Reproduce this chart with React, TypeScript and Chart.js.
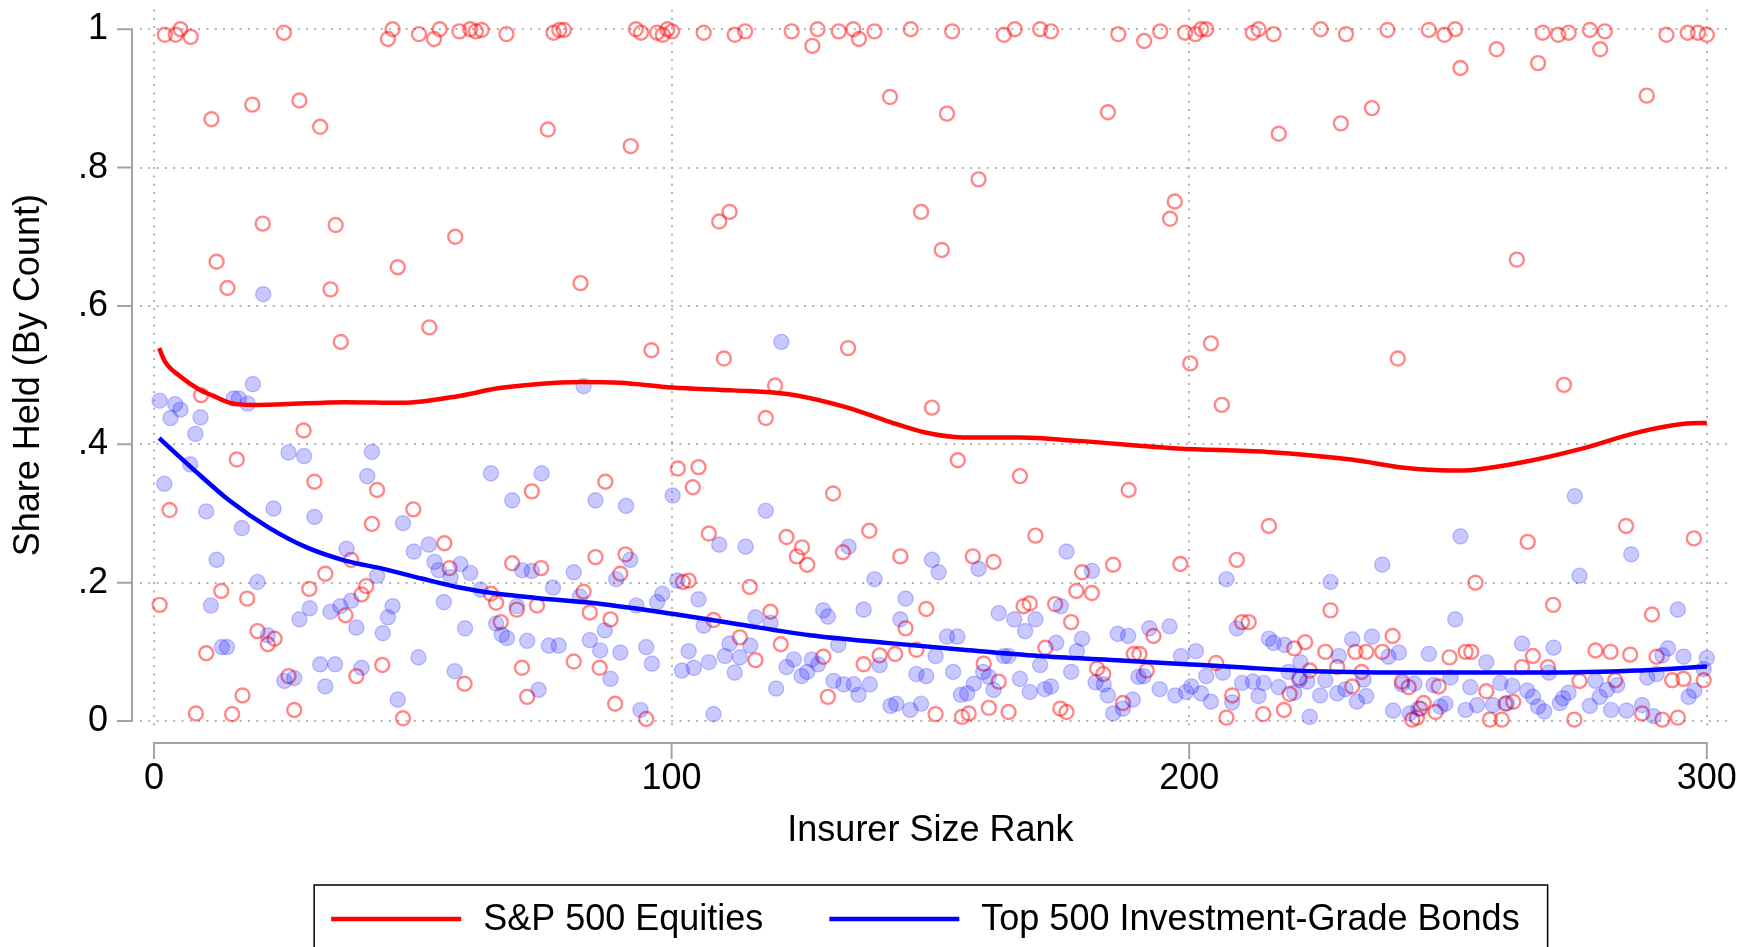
import React, { useEffect, useRef } from "react";
import { Chart, registerables } from "chart.js";

Chart.register(...registerables);

const FONT = '"Liberation Sans", Arial, Helvetica, sans-serif';
const FONT_SIZE = 36;

// ---- axis ticks / titles ----
const xTickValues = [0, 100, 200, 300];
const xTickLabels = ["0", "100", "200", "300"];
const yTickValues = [0, 0.2, 0.4, 0.6, 0.8, 1];
const yTickLabels = ["0", ".2", ".4", ".6", ".8", "1"];
const xTitle = "Insurer Size Rank";
const yTitle = "Share Held (By Count)";
const seriesNames = ["S&P 500 Equities", "Top 500 Investment-Grade Bonds"];

// ---- S&P 500 equities: share held per insurer (hollow red) ----
const equityRank = [
  1.1, 2.1, 3.0, 4.2, 5.1, 7.1, 8.1, 9.1, 10.1, 11.1, 12.1, 13.0, 14.2, 15.1, 16.0, 17.1, 18.0, 19.0, 20.0, 21.0,
  22.0, 23.3, 25.1, 26.0, 27.1, 28.1, 28.9, 30.0, 31.0, 32.1, 33.1, 34.1, 35.1, 36.1, 37.0, 38.1, 39.1, 40.1, 41.0, 42.1,
  43.1, 44.1, 45.2, 46.1, 47.1, 48.1, 50.1, 51.2, 53.2, 54.1, 55.2, 56.1, 57.1, 58.2, 59.0, 60.0, 61.1, 62.2, 63.3, 65.1,
  66.1, 67.0, 68.1, 69.2, 70.1, 71.1, 72.1, 73.0, 74.0, 74.8, 76.1, 77.2, 78.3, 79.2, 81.1, 82.4, 83.0, 84.2, 85.3, 86.1,
  87.2, 88.2, 89.1, 90.1, 91.1, 92.1, 93.1, 94.1, 95.1, 96.1, 97.2, 98.3, 99.2, 100.1, 101.2, 102.2, 103.3, 104.1, 105.2, 106.2,
  107.2, 108.1, 109.2, 110.1, 111.2, 112.2, 113.2, 114.2, 115.1, 116.2, 118.2, 119.1, 120.0, 121.1, 122.2, 123.2, 124.2, 125.2, 126.2, 127.2,
  128.2, 129.3, 130.2, 131.2, 132.3, 133.1, 134.1, 135.1, 136.2, 137.1, 138.2, 139.2, 140.2, 142.2, 143.2, 144.2, 145.2, 146.2, 147.3, 148.2,
  149.2, 150.3, 151.0, 152.2, 153.2, 154.2, 155.3, 156.1, 157.4, 158.2, 159.3, 160.3, 161.3, 162.2, 163.2, 164.2, 165.1, 166.3, 167.3, 168.0,
  169.2, 170.3, 171.2, 172.2, 173.3, 174.1, 175.1, 176.3, 177.2, 178.2, 179.3, 181.2, 182.2, 183.4, 184.3, 185.3, 186.3, 187.2, 188.3, 189.3,
  190.4, 191.3, 191.8, 193.1, 194.4, 196.3, 197.2, 198.3, 199.2, 200.2, 201.2, 202.3, 203.3, 204.2, 205.2, 206.3, 207.2, 208.3, 209.2, 210.2,
  211.5, 212.3, 213.4, 214.3, 215.4, 216.3, 217.3, 218.3, 219.4, 220.3, 221.3, 222.4, 223.3, 225.4, 226.3, 227.3, 228.6, 229.3, 230.3, 231.5,
  232.1, 233.3, 234.2, 235.3, 237.3, 238.3, 239.3, 240.3, 241.1, 242.4, 243.1, 244.0, 244.7, 245.3, 246.3, 247.6, 248.2, 249.3, 250.3, 251.4,
  252.4, 253.4, 254.5, 255.3, 257.4, 258.1, 259.4, 260.4, 261.1, 262.6, 263.3, 264.3, 265.4, 266.4, 267.4, 268.3, 269.3, 270.3, 271.3, 272.4,
  273.3, 274.4, 275.4, 277.4, 278.5, 279.4, 280.3, 281.4, 282.3, 284.4, 285.2, 287.5, 288.4, 289.4, 290.3, 291.4, 292.2, 293.3, 294.4, 295.5,
  296.3, 297.5, 298.3, 299.4, 300.0,
];
const equityShare = [
  0.168, 0.992, 0.305, 0.992, 1.0, 0.989, 0.011, 0.471, 0.098, 0.87, 0.664, 0.188, 0.626, 0.01, 0.378, 0.037, 0.177, 0.891, 0.13, 0.719,
  0.111, 0.119, 0.995, 0.065, 0.016, 0.897, 0.42, 0.191, 0.346, 0.859, 0.213, 0.624, 0.717, 0.548, 0.153, 0.233, 0.065, 0.183, 0.195, 0.285,
  0.334, 0.081, 0.986, 1.0, 0.656, 0.004, 0.306, 0.993, 0.569, 0.986, 1.0, 0.257, 0.221, 0.7, 0.997, 0.054, 1.0, 0.997, 0.999, 0.184,
  0.171, 0.143, 0.993, 0.228, 0.161, 0.077, 0.035, 0.332, 0.167, 0.221, 0.855, 0.995, 0.999, 0.999, 0.086, 0.633, 0.187, 0.157, 0.237, 0.077,
  0.346, 0.147, 0.025, 0.213, 0.241, 0.831, 1.0, 0.995, 0.003, 0.536, 0.995, 0.992, 1.0, 0.997, 0.365, 0.201, 0.203, 0.338, 0.367, 0.995,
  0.271, 0.146, 0.722, 0.524, 0.736, 0.992, 0.121, 0.997, 0.194, 0.088, 0.438, 0.158, 0.485, 0.111, 0.266, 0.997, 0.238, 0.251, 0.226, 0.976,
  1.0, 0.093, 0.035, 0.329, 0.997, 0.244, 0.539, 1.0, 0.986, 0.082, 0.275, 0.997, 0.095, 0.902, 0.097, 0.238, 0.134, 1.0, 0.103, 0.736,
  0.162, 0.453, 0.01, 0.681, 0.878, 0.997, 0.377, 0.006, 0.011, 0.238, 0.783, 0.083, 0.019, 0.23, 0.057, 0.992, 0.013, 1.0, 0.354, 0.166,
  0.17, 0.268, 1.0, 0.106, 0.997, 0.169, 0.018, 0.013, 0.143, 0.188, 0.215, 0.185, 0.076, 0.068, 0.88, 0.226, 0.993, 0.026, 0.334, 0.097,
  0.097, 0.983, 0.073, 0.123, 0.997, 0.726, 0.751, 0.227, 0.995, 0.517, 0.993, 1.0, 1.0, 0.546, 0.084, 0.457, 0.005, 0.037, 0.233, 0.143,
  0.143, 0.995, 1.0, 0.01, 0.282, 0.993, 0.849, 0.016, 0.039, 0.105, 0.062, 0.114, 0.073, 1.0, 0.1, 0.16, 0.078, 0.864, 0.993, 0.05,
  0.1, 0.071, 0.1, 0.886, 0.1, 0.999, 0.123, 0.524, 0.057, 0.049, 0.002, 0.005, 0.018, 0.026, 0.999, 0.013, 0.05, 0.992, 0.092, 1.0,
  0.944, 0.1, 0.1, 0.2, 0.043, 0.002, 0.971, 0.002, 0.025, 0.028, 0.667, 0.078, 0.259, 0.094, 0.951, 0.995, 0.078, 0.168, 0.992, 0.486,
  0.995, 0.002, 0.058, 0.999, 0.102, 0.971, 0.997, 0.1, 0.059, 0.282, 0.096, 0.011, 0.904, 0.154, 0.093, 0.002, 0.992, 0.059, 0.005, 0.061,
  0.995, 0.264, 0.995, 0.059, 0.992,
];

// ---- Top 500 IG bonds: share held per insurer (filled blue) ----
const bondRank = [
  1.1, 2.0, 3.2, 4.1, 5.1, 7.0, 8.0, 9.0, 10.1, 11.0, 12.1, 13.1, 14.1, 15.4, 16.4, 17.0, 18.1, 19.1, 20.0, 21.1,
  22.0, 23.1, 25.2, 26.0, 27.1, 28.1, 29.0, 30.1, 31.0, 32.1, 33.1, 34.1, 35.0, 36.0, 37.2, 38.1, 39.1, 40.1, 41.2, 42.1,
  43.1, 44.2, 45.2, 46.1, 47.1, 48.1, 50.2, 51.1, 53.1, 54.2, 55.0, 56.0, 57.3, 58.1, 59.2, 60.1, 61.1, 63.1, 65.1, 66.1,
  67.2, 68.2, 69.2, 70.1, 71.1, 72.1, 73.0, 74.3, 74.9, 76.3, 77.1, 78.2, 81.1, 82.3, 83.0, 84.2, 85.3, 86.2, 87.1, 88.2,
  89.3, 90.1, 91.2, 92.0, 93.2, 94.0, 95.1, 96.2, 97.2, 98.2, 100.2, 101.1, 102.0, 103.3, 104.3, 105.2, 106.2, 107.2, 108.1, 109.2,
  110.3, 111.2, 112.2, 113.2, 114.3, 115.2, 116.2, 118.2, 119.1, 120.2, 121.2, 122.2, 123.6, 125.1, 126.2, 127.1, 128.3, 129.3, 130.2, 131.3,
  132.2, 133.2, 134.2, 135.2, 136.1, 137.1, 138.3, 139.2, 140.2, 142.3, 143.4, 144.2, 145.2, 146.1, 147.3, 148.2, 149.2, 150.3, 151.0, 151.6,
  153.2, 154.4, 155.2, 155.9, 157.1, 158.4, 159.3, 160.2, 161.3, 162.2, 163.2, 164.2, 165.1, 166.2, 167.3, 168.3, 169.2, 170.3, 171.2, 172.1,
  173.3, 174.3, 175.2, 176.3, 177.2, 178.3, 179.3, 181.2, 181.9, 183.5, 184.3, 185.3, 186.2, 187.2, 188.2, 189.1, 190.2, 191.2, 192.3, 194.3,
  196.2, 197.3, 198.4, 199.4, 200.4, 201.3, 202.3, 203.3, 204.2, 206.5, 207.2, 208.3, 209.2, 210.2, 212.3, 213.4, 214.4, 215.4, 216.3, 217.3,
  218.4, 219.2, 220.3, 221.3, 221.5, 222.8, 223.3, 225.3, 226.3, 227.3, 228.6, 228.9, 230.2, 231.5, 232.4, 233.7, 234.2, 235.3, 237.3, 238.5,
  239.4, 240.5, 241.1, 242.6, 243.5, 244.3, 246.3, 247.2, 248.5, 249.5, 250.5, 251.4, 252.4, 253.4, 254.3, 255.6, 257.4, 258.7, 260.1, 261.4,
  262.4, 264.3, 265.3, 266.4, 267.4, 268.6, 269.5, 270.4, 271.6, 272.2, 273.3, 274.5, 275.4, 277.4, 278.5, 279.3, 280.7, 281.5, 282.7, 284.5,
  285.4, 287.5, 288.5, 289.7, 290.3, 291.4, 292.5, 294.4, 295.5, 296.5, 297.6, 299.4, 300.0,
];
const bondShare = [
  0.463, 0.343, 0.438, 0.458, 0.45, 0.371, 0.415, 0.439, 0.303, 0.167, 0.233, 0.107, 0.107, 0.466, 0.466, 0.279, 0.459, 0.487, 0.201, 0.617,
  0.124, 0.307, 0.058, 0.388, 0.062, 0.147, 0.383, 0.163, 0.295, 0.082, 0.05, 0.158, 0.082, 0.166, 0.249, 0.174, 0.135, 0.077, 0.354, 0.389,
  0.21, 0.127, 0.15, 0.166, 0.031, 0.286, 0.245, 0.092, 0.255, 0.23, 0.218, 0.172, 0.208, 0.072, 0.227, 0.134, 0.214, 0.19, 0.358, 0.141,
  0.125, 0.12, 0.319, 0.166, 0.218, 0.116, 0.217, 0.045, 0.358, 0.109, 0.193, 0.109, 0.215, 0.18, 0.484, 0.117, 0.319, 0.102, 0.131, 0.061,
  0.205, 0.099, 0.311, 0.233, 0.167, 0.016, 0.107, 0.083, 0.172, 0.184, 0.326, 0.203, 0.073, 0.101, 0.077, 0.176, 0.138, 0.085, 0.01, 0.255,
  0.094, 0.112, 0.07, 0.092, 0.252, 0.109, 0.15, 0.304, 0.142, 0.047, 0.548, 0.078, 0.089, 0.065, 0.071, 0.089, 0.082, 0.16, 0.151, 0.058,
  0.11, 0.053, 0.252, 0.053, 0.038, 0.161, 0.053, 0.205, 0.081, 0.022, 0.025, 0.147, 0.177, 0.016, 0.068, 0.025, 0.065, 0.233, 0.094, 0.215,
  0.122, 0.071, 0.122, 0.038, 0.04, 0.054, 0.22, 0.071, 0.064, 0.045, 0.156, 0.094, 0.094, 0.147, 0.061, 0.13, 0.042, 0.147, 0.081, 0.046,
  0.05, 0.113, 0.166, 0.245, 0.071, 0.101, 0.119, 0.217, 0.056, 0.053, 0.037, 0.011, 0.126, 0.018, 0.123, 0.031, 0.064, 0.065, 0.134, 0.046,
  0.137, 0.037, 0.094, 0.042, 0.05, 0.101, 0.04, 0.065, 0.028, 0.07, 0.205, 0.027, 0.134, 0.055, 0.057, 0.036, 0.055, 0.119, 0.113, 0.049,
  0.11, 0.071, 0.041, 0.059, 0.085, 0.057, 0.006, 0.037, 0.059, 0.201, 0.04, 0.094, 0.046, 0.118, 0.028, 0.06, 0.036, 0.122, 0.226, 0.093,
  0.015, 0.099, 0.053, 0.011, 0.054, 0.018, 0.097, 0.052, 0.021, 0.025, 0.063, 0.147, 0.267, 0.016, 0.049, 0.023, 0.085, 0.023, 0.055, 0.026,
  0.051, 0.112, 0.044, 0.035, 0.021, 0.014, 0.07, 0.106, 0.026, 0.033, 0.041, 0.325, 0.21, 0.022, 0.058, 0.035, 0.045, 0.016, 0.052, 0.015,
  0.241, 0.023, 0.063, 0.007, 0.068, 0.095, 0.105, 0.161, 0.093, 0.035, 0.044, 0.075, 0.091,
];

// ---- smoothed (lowess) fits ----
const equityFitRank = [1, 2.1, 5.1, 8.8, 11.5, 14.7, 19.1, 25, 36.9, 48, 59, 66.4, 73.8, 82.4, 90, 100.1, 112, 123, 134, 141.5, 149, 156.3, 167.4, 178.5, 197.7, 215, 231.3, 241.6, 250.4, 254.8, 264.4, 275.5, 286.5, 296.1, 300];
const equityFitShare = [0.539, 0.52, 0.498, 0.479, 0.47, 0.46, 0.457, 0.458, 0.461, 0.46, 0.47, 0.481, 0.487, 0.49, 0.489, 0.482, 0.478, 0.472, 0.453, 0.434, 0.417, 0.41, 0.41, 0.405, 0.394, 0.389, 0.378, 0.366, 0.362, 0.363, 0.374, 0.393, 0.417, 0.43, 0.431];
const bondFitRank = [1, 7.3, 14.7, 22.1, 29.5, 36.9, 44.3, 51.7, 59, 66.4, 73.8, 85.7, 100.1, 112, 126.7, 141.5, 156.3, 171, 186, 197.7, 209, 224, 246, 268, 286.5, 300];
const bondFitShare = [0.409, 0.366, 0.318, 0.28, 0.251, 0.232, 0.22, 0.206, 0.193, 0.184, 0.178, 0.17, 0.155, 0.141, 0.124, 0.113, 0.103, 0.094, 0.088, 0.083, 0.078, 0.072, 0.07, 0.07, 0.073, 0.079];

const AXIS_COLOR = "#a3a3a3";
const GRID_COLOR = "#b3b3b3";

const stataPlugin = {
  id: "stataFrame",
  afterDraw(chart: any) {
    const { ctx, chartArea, scales } = chart;
    const xs = scales.x;
    const ys = scales.y;
    ctx.save();
    // y axis line + ticks (offset left of plot region)
    ctx.strokeStyle = AXIS_COLOR;
    ctx.lineWidth = 2;
    ctx.lineCap = "butt";
    const ax = chartArea.left - 8;
    const yBot = ys.getPixelForValue(yTickValues[0]);
    const yTop = ys.getPixelForValue(yTickValues[yTickValues.length - 1]);
    ctx.beginPath();
    ctx.moveTo(ax, yBot + 1);
    ctx.lineTo(ax, yTop - 1);
    yTickValues.forEach((v) => {
      const p = ys.getPixelForValue(v);
      ctx.moveTo(ax - 15, p);
      ctx.lineTo(ax, p);
    });
    ctx.stroke();
    // x axis line + ticks (offset below plot region)
    const ay = chartArea.bottom + 16;
    const xL = xs.getPixelForValue(xTickValues[0]);
    const xR = xs.getPixelForValue(xTickValues[xTickValues.length - 1]);
    ctx.beginPath();
    ctx.moveTo(xL - 1, ay);
    ctx.lineTo(xR + 1, ay);
    xTickValues.forEach((v) => {
      const p = xs.getPixelForValue(v);
      ctx.moveTo(p, ay);
      ctx.lineTo(p, ay + 16);
    });
    ctx.stroke();

    // axis titles
    ctx.fillStyle = "#000";
    ctx.font = `${FONT_SIZE}px ${FONT}`;
    ctx.textAlign = "center";
    ctx.textBaseline = "middle";
    ctx.fillText(xTitle, (xL + xR) / 2, chartArea.bottom + 104);
    ctx.save();
    ctx.translate(29, (yBot + yTop) / 2);
    ctx.rotate(-Math.PI / 2);
    ctx.fillText(yTitle, 0, 0);
    ctx.restore();

    // legend (boxed, below the axis title)
    const fits = chart.data.datasets.filter((d: any) => d.isFit);
    const lineLen = 130;
    const gapText = 22;
    const gapItem = 66;
    const widths = fits.map((d: any) => ctx.measureText(d.label).width);
    const content = fits.reduce((s: number, _d: any, i: number) => s + lineLen + gapText + widths[i], 0) + gapItem * (fits.length - 1);
    const cx = (xL + xR) / 2 - 5;
    let x = cx - content / 2;
    const ly = chartArea.bottom + 192;
    const boxTop = chartArea.bottom + 158;
    ctx.strokeStyle = "#000";
    ctx.lineWidth = 1.5;
    ctx.strokeRect(x - 17, boxTop, content + 45, 120);
    ctx.textAlign = "left";
    fits.forEach((d: any, i: number) => {
      ctx.strokeStyle = d.borderColor;
      ctx.lineWidth = 4.5;
      ctx.beginPath();
      ctx.moveTo(x, ly);
      ctx.lineTo(x + lineLen, ly);
      ctx.stroke();
      x += lineLen + gapText;
      ctx.fillStyle = "#000";
      ctx.fillText(d.label, x, ly + 1);
      x += widths[i] + gapItem;
    });
    ctx.restore();
  },
};

const zeroPadding = (axis: any) => {
  axis.paddingTop = 0;
  axis.paddingBottom = 0;
  axis.paddingLeft = 0;
  axis.paddingRight = 0;
};

export default function App() {
  const ref = useRef<HTMLCanvasElement | null>(null);

  useEffect(() => {
    if (!ref.current) return;
    const equityPts = equityRank.map((x, i) => ({ x, y: equityShare[i] }));
    const bondPts = bondRank.map((x, i) => ({ x, y: bondShare[i] }));
    const equityFit = equityFitRank.map((x, i) => ({ x, y: equityFitShare[i] }));
    const bondFit = bondFitRank.map((x, i) => ({ x, y: bondFitShare[i] }));

    const chart = new Chart(ref.current, {
      type: "scatter",
      data: {
        datasets: [
          {
            label: seriesNames[0] + " (holdings)",
            data: equityPts,
            showLine: false,
            pointRadius: 7,
            pointBorderWidth: 2.4,
            pointBorderColor: "rgba(255,0,0,0.47)",
            pointBackgroundColor: "rgba(0,0,0,0)",
            clip: false,
            order: 4,
          } as any,
          {
            label: seriesNames[1] + " (holdings)",
            data: bondPts,
            showLine: false,
            pointRadius: 7.6,
            pointBorderWidth: 1.4,
            pointBorderColor: "rgba(0,0,255,0.21)",
            pointBackgroundColor: "rgba(0,0,255,0.21)",
            clip: false,
            order: 3,
          } as any,
          {
            type: "line",
            label: seriesNames[0],
            isFit: true,
            data: equityFit,
            borderColor: "rgb(255,0,0)",
            borderWidth: 4.5,
            pointRadius: 0,
            cubicInterpolationMode: "monotone",
            fill: false,
            order: 2,
          } as any,
          {
            type: "line",
            label: seriesNames[1],
            isFit: true,
            data: bondFit,
            borderColor: "rgb(0,0,255)",
            borderWidth: 4.5,
            pointRadius: 0,
            cubicInterpolationMode: "monotone",
            fill: false,
            order: 1,
          } as any,
        ],
      },
      options: {
        responsive: false,
        maintainAspectRatio: false,
        devicePixelRatio: 1,
        animation: false,
        layout: { padding: { left: 0, top: 7, right: 31, bottom: 0 } },
        plugins: {
          legend: { display: false },
          tooltip: { enabled: false },
          title: { display: false },
        },
        scales: {
          x: {
            type: "linear",
            min: -2.7,
            max: 303.9,
            afterBuildTicks: (axis: any) => {
              axis.ticks = xTickValues.map((v) => ({ value: v }));
            },
            afterFit: (axis: any) => {
              axis.height = 220;
              zeroPadding(axis);
            },
            grid: { color: GRID_COLOR, lineWidth: 2, drawTicks: false },
            border: { display: false, dash: [2, 6.3] },
            ticks: {
              autoSkip: false,
              maxRotation: 0,
              padding: 30,
              color: "#000",
              font: { family: FONT, size: FONT_SIZE },
              callback: (v: any) => xTickLabels[xTickValues.indexOf(v)],
            },
          },
          y: {
            type: "linear",
            min: -0.0086,
            max: 1.0287,
            afterBuildTicks: (axis: any) => {
              axis.ticks = yTickValues.map((v) => ({ value: v }));
            },
            afterFit: (axis: any) => {
              axis.width = 140;
              zeroPadding(axis);
            },
            grid: { color: GRID_COLOR, lineWidth: 2, drawTicks: false },
            border: { display: false, dash: [2, 6.3] },
            ticks: {
              autoSkip: false,
              padding: 32,
              color: "#000",
              font: { family: FONT, size: FONT_SIZE },
              callback: (v: any) => yTickLabels[yTickValues.indexOf(v)],
            },
          },
        },
      } as any,
      plugins: [stataPlugin],
    });
    return () => chart.destroy();
  }, []);

  return (
    <div style={{ position: "absolute", left: 0, top: 0, width: 1758, height: 947, background: "#fff" }}>
      <canvas ref={ref} width={1758} height={947} style={{ display: "block", width: 1758, height: 947 }} />
    </div>
  );
}
